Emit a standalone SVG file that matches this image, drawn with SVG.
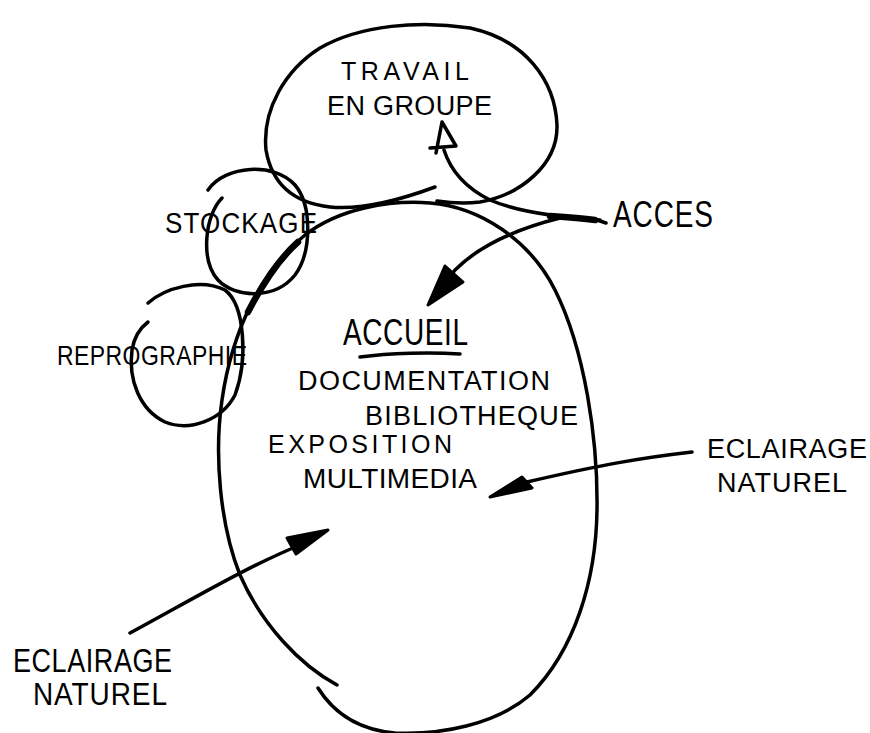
<svg xmlns="http://www.w3.org/2000/svg" width="870" height="733" viewBox="0 0 870 733">
<style>
.ln{fill:none;stroke:#000;stroke-width:3.5;stroke-linecap:round;stroke-linejoin:round}
.thk{fill:none;stroke:#000;stroke-width:6.5;stroke-linecap:round}
.head{fill:#000;stroke:#000;stroke-width:3;stroke-linejoin:round}
.t{font-family:"Liberation Sans","DejaVu Sans",sans-serif;fill:#000}
</style>
<rect width="870" height="733" fill="#fff"/>
<g id="travail-en-groupe">
<path class="ln" d="M435,187 C400,200 360,210 330,207 C295,203 272,185 266,150 C262,110 285,70 320,48 C360,25 420,20 470,28 C525,40 555,80 557,125 C558,165 520,195 480,202 C465,204 450,203 437,201"/>
<text class="t" x="341" y="80" font-size="25" textLength="128" lengthAdjust="spacing">TRAVAIL</text>
<text class="t" x="327" y="115" font-size="27" textLength="165" lengthAdjust="spacing">EN GROUPE</text>
</g>
<g id="stockage">
<path class="ln" d="M222,198 C205,215 200,260 218,280 C235,298 275,300 295,275 C312,252 312,205 295,185 C275,162 225,165 208,190"/>
<text class="t" transform="translate(165,233) scale(1,1.1)" x="0" y="0" font-size="26" textLength="152" lengthAdjust="spacing">STOCKAGE</text>
</g>
<g id="reprographie">
<path class="ln" d="M148,303 C165,288 200,278 225,290 C245,305 248,360 235,395 C222,420 190,432 165,422 C140,410 128,380 132,350 C134,338 140,328 148,322"/>
<text class="t" transform="translate(57,365) scale(1,1.2)" x="0" y="0" font-size="23" textLength="190" lengthAdjust="spacing">REPROGRAPHIE</text>
</g>
<g id="accueil">
<path class="ln" d="M337,685 C300,665 262,625 240,575 C220,525 214,455 222,400 C232,330 262,270 305,235 C340,208 390,200 430,203 C480,207 530,240 555,290 C585,350 598,440 597,510 C596,580 575,650 530,695 C495,725 440,735 395,733 C360,730 335,715 318,688"/>
<path class="thk" d="M248,312 C262,285 280,258 298,242"/>
<text class="t" transform="translate(343,345) scale(1,1.35)" x="0" y="0" font-size="28" textLength="125" lengthAdjust="spacing">ACCUEIL</text>
<path class="ln" d="M360,357 C390,353 430,352 460,354"/>
<text class="t" x="298" y="390" font-size="27" textLength="252" lengthAdjust="spacing">DOCUMENTATION</text>
<text class="t" x="365" y="425" font-size="27" textLength="213" lengthAdjust="spacing">BIBLIOTHEQUE</text>
<text class="t" x="268" y="453" font-size="25" textLength="184" lengthAdjust="spacing">EXPOSITION</text>
<text class="t" x="303" y="488" font-size="28" textLength="174" lengthAdjust="spacing">MULTIMEDIA</text>
</g>
<g id="acces">
<text class="t" transform="translate(613,227) scale(1,1.3)" x="0" y="0" font-size="28" textLength="100" lengthAdjust="spacing">ACCES</text>
</g>
<g id="eclairage-droite">
<text class="t" x="707" y="458" font-size="27" textLength="160" lengthAdjust="spacing">ECLAIRAGE</text>
<text class="t" x="717" y="492" font-size="27" textLength="130" lengthAdjust="spacing">NATUREL</text>
</g>
<g id="eclairage-gauche">
<text class="t" transform="translate(13,672) scale(1,1.25)" x="0" y="0" font-size="27" textLength="159" lengthAdjust="spacing">ECLAIRAGE</text>
<text class="t" transform="translate(33,705) scale(1,1.1)" x="0" y="0" font-size="28" textLength="134" lengthAdjust="spacing">NATUREL</text>
</g>
<g id="connectors">
<path class="thk" d="M595,220 C580,218 565,217 550,216"/>
<path class="ln" d="M606,223 L594,219"/>
<path class="ln" d="M600,220 C570,218 520,213 490,200 C470,190 452,175 444,150"/>
<path class="ln" d="M436,153 L442,122 L456,146 L430,148"/>
<path class="ln" d="M560,218 C520,228 480,245 455,270 L433,300"/>
<polygon class="head" points="428,305 445,266 463,282"/>
<path class="ln" d="M692,452 C640,458 600,465 527,482 L495,495"/>
<polygon class="head" points="490,497 522,477 532,488"/>
<path class="ln" d="M130,633 C200,595 250,565 305,543"/>
<polygon class="head" points="328,530 287,538 296,554"/>
</g>
</svg>
